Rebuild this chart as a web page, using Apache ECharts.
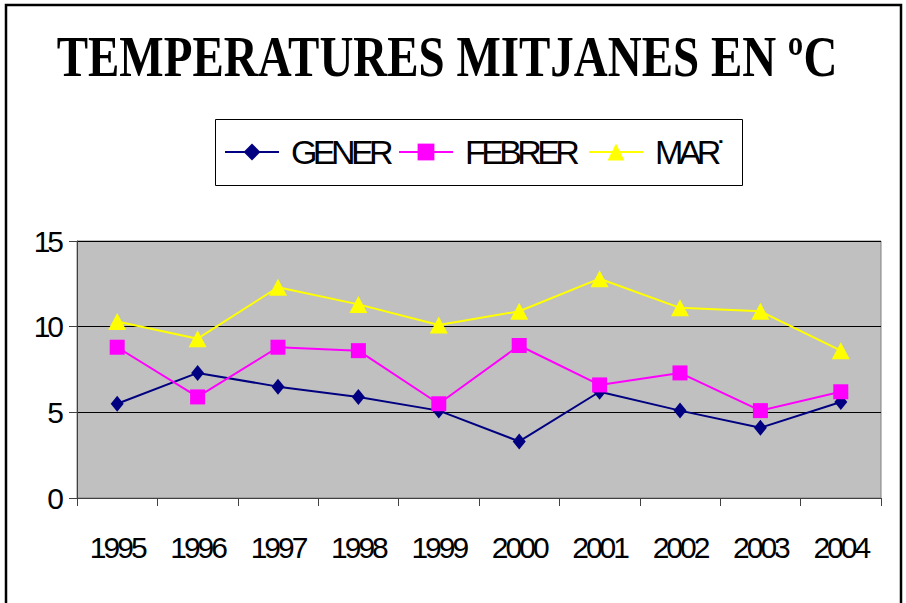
<!DOCTYPE html>
<html>
<head>
<meta charset="utf-8">
<script src="https://cdn.jsdelivr.net/npm/echarts@6/dist/echarts.min.js"></script>
<style>
html,body{margin:0;padding:0;background:#fff;}
#chart{width:906px;height:603px;}
</style>
</head>
<body>
<div id="chart"></div>
<script>
const titleText = 'TEMPERATURES MITJANES EN ºC';
const years = ['1995','1996','1997','1998','1999','2000','2001','2002','2003','2004'];
const seriesNames = ['GENER','FEBRER','MAR˙'];
const gener  = [5.5, 7.3, 6.5, 5.9, 5.1, 3.3, 6.2, 5.1, 4.1, 5.6];
const febrer = [8.8, 5.9, 8.8, 8.6, 5.5, 8.9, 6.6, 7.3, 5.1, 6.2];
const marc   = [10.3, 9.3, 12.3, 11.3, 10.1, 10.9, 12.8, 11.1, 10.9, 8.6];
const yTicks = [0, 5, 10, 15];

const sans = '"Liberation Sans", Arial, sans-serif';
const legendLefts = [224, 398, 588];

const chart = echarts.init(document.getElementById('chart'), null, {renderer:'svg'});
chart.setOption({
  animation: false,
  backgroundColor: '#ffffff',
  graphic: [
    { type:'rect', shape:{x:6, y:5, width:895, height:603}, style:{fill:'none', stroke:'#000', lineWidth:2.5}, silent:true, z:-1 },
    { type:'rect', shape:{x:215.5, y:119.5, width:527, height:66}, style:{fill:'#fff', stroke:'#000', lineWidth:1}, silent:true, z:-1 },
    { type:'text', x:447, y:56, scaleX:0.81, style:{ text:titleText, font:'bold 58px "Liberation Serif", "Times New Roman", serif', fill:'#000', textAlign:'center', textVerticalAlign:'middle' } }
  ],
  legend: seriesNames.map((n, i) => ({
    left: legendLefts[i], top: 134,
    data: [n],
    padding: 0,
    itemWidth: 54, itemHeight: 21,
    textStyle: { fontFamily: sans, fontSize: 34, lineHeight: 36, color: '#000', padding: [0,0,0,7] }
  })),
  grid: { left: 77, right: 25, top: 241, bottom: 105, show: true, backgroundColor: '#C0C0C0', borderColor: '#808080', borderWidth: 1 },
  xAxis: {
    type: 'category', data: years, boundaryGap: true,
    axisLine: { lineStyle: { color: '#404040', width: 1 } },
    axisTick: { show: true, length: 8, lineStyle: { color: '#404040' } },
    axisLabel: { fontFamily: sans, fontSize: 30, color: '#000', margin: 34, interval: 0 },
    splitLine: { show: false }
  },
  yAxis: {
    type: 'value', min: 0, max: 15, interval: 5,
    axisLine: { show: true, lineStyle: { color: '#404040', width: 1 } },
    axisTick: { show: true, length: 8, lineStyle: { color: '#404040' } },
    axisLabel: { fontFamily: sans, fontSize: 30, color: '#000', margin: 16,
      formatter: v => yTicks.includes(v) ? String(v) : '' },
    splitLine: { show: true, lineStyle: { color: '#000', width: 1 } }
  },
  series: [
    { name: seriesNames[0], type: 'line', data: gener, symbol: 'diamond', symbolSize: [13, 16],
      lineStyle: { color: '#000080', width: 2 }, itemStyle: { color: '#000080' } },
    { name: seriesNames[1], type: 'line', data: febrer, symbol: 'rect', symbolSize: 15,
      lineStyle: { color: '#FF00FF', width: 2 }, itemStyle: { color: '#FF00FF' } },
    { name: seriesNames[2], type: 'line', data: marc, symbol: 'triangle', symbolSize: [18, 17],
      lineStyle: { color: '#FFFF00', width: 2 }, itemStyle: { color: '#FFFF00' } }
  ]
});

// Emulate the tightly-spaced sans text of the original chart
document.querySelectorAll('#chart svg text').forEach(t => {
  const f = (t.getAttribute('style') || '') + ' ' + (t.getAttribute('font-family') || '') + ' ' + (t.getAttribute('font') || '');
  if (f.indexOf('Serif') >= 0) return;
  const size = parseFloat(getComputedStyle(t).fontSize) || 0;
  if (size >= 32) t.style.letterSpacing = '-4.6px';
  else if (size >= 28) t.style.letterSpacing = '-3px';
});
</script>
</body>
</html>
